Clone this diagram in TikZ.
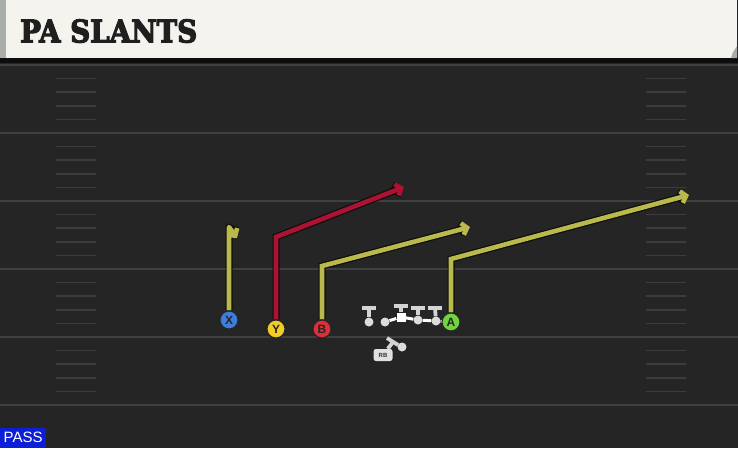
\documentclass[tikz,border=0pt]{standalone}
\usepackage{fontspec}
\usepackage{graphicx}
\setmainfont{Liberation Sans}
\newfontfamily\titlefont{DejaVu Serif Bold}[FakeBold=4]
\usetikzlibrary{arrows.meta}
\definecolor{fieldbg}{RGB}{37,37,37}
\definecolor{yardline}{RGB}{64,64,64}
\definecolor{hashc}{RGB}{60,60,60}
\definecolor{headbg}{RGB}{245,243,237}
\definecolor{headedge}{RGB}{170,172,170}
\definecolor{routeyel}{RGB}{186,186,76}
\definecolor{routered}{RGB}{172,18,50}
\definecolor{pblue}{RGB}{62,124,222}
\definecolor{pyellow}{RGB}{244,204,40}
\definecolor{pred}{RGB}{222,46,56}
\definecolor{pgreen}{RGB}{112,212,64}
\definecolor{linegray}{RGB}{212,212,212}
\definecolor{passblue}{RGB}{12,30,214}
\tikzset{
  route/.style={line width=4.6pt, line join=miter, -{Straight Barb[length=5pt,width=12pt]},
    preaction={draw=black!95, line width=7pt, -{Straight Barb[length=5pt,width=12pt]}}},
  hookroute/.style={line width=4.6pt, line join=round, draw=routeyel, -{Straight Barb[length=5pt,width=12pt]},
    preaction={draw=black!95, line join=round, line width=7pt, -{Straight Barb[length=5pt,width=12pt]}}},
  yroute/.style={route, draw=routeyel},
  rroute/.style={route, draw=routered},
  player/.style={circle, minimum size=18pt, inner sep=0pt, draw=black!85, line width=1.1pt,
    font=\bfseries\fontsize{12}{12}\selectfont, text=black!85},
  olman/.style={line width=3.8pt, draw=linegray},
  olbody/.style={circle, fill=linegray!80, minimum size=9pt, inner sep=0pt},
  yardl/.style={draw=yardline, line width=2pt},
  hashl/.style={draw=hashc, line width=1.6pt}
}
\begin{document}
\begin{tikzpicture}[x=1pt,y=-1pt]
\useasboundingbox (0,0) rectangle (738,448);
% field
\fill[fieldbg] (0,0) rectangle (738,448);
% yard lines and hashes
\foreach \i in {0,...,5}{
  \draw[yardl] (0,{65+68*\i}) -- (738,{65+68*\i});
}
\foreach \i in {0,...,4}{
  \foreach \k in {1,...,4}{
    \draw[hashl] (56,{65+68*\i+13.6*\k}) -- (96,{65+68*\i+13.6*\k});
    \draw[hashl] (646,{65+68*\i+13.6*\k}) -- (686,{65+68*\i+13.6*\k});
  }
}
% header
\fill[black!95] (0,57) rectangle (738,62.5);
\fill[headbg] (0,0) rectangle (737,58);
\fill[headedge] (0,0) rectangle (6,58);
\fill[headedge] (733,52) -- (737,46) -- (737,58) -- (731,58) -- cycle;
\node[anchor=south west, inner sep=0pt, text=black!88] (title) at (20,43)
  {\resizebox{177pt}{23pt}{\titlefont PA SLANTS}};
% players
\node[player, fill=pblue] (X) at (229,320) {X};
\node[player, fill=pyellow] (Y) at (276,329) {Y};
\node[player, fill=pred] (B) at (322,329) {B};
\node[player, fill=pgreen] (A) at (451,322) {A};
% route coordinates
\coordinate (xb) at (229,227);
\coordinate (xe) at (237,238);
\coordinate (yb) at (276,237);
\coordinate (ye) at (404,187);
\coordinate (bb) at (322,266);
\coordinate (be) at (470,227);
\coordinate (ab) at (451,259);
\coordinate (ae) at (689,195);
% routes
\draw[hookroute] (X) -- (xb) -- (xe);
\draw[rroute] (Y) -- (yb) -- (ye);
\draw[yroute] (B) -- (bb) -- (be);
\draw[yroute] (A) -- (ab) -- (ae);
% redraw players on top
\node[player, fill=pblue] at (X) {X};
\node[player, fill=pyellow] at (Y) {Y};
\node[player, fill=pred] at (B) {B};
\node[player, fill=pgreen] at (A) {A};
% offensive line
\node[olbody] (lt) at (369,322) {};
\node[olbody] (lg) at (385,322) {};
\node[fill=white, minimum size=9pt, inner sep=0pt] (c) at (401,317) {};
\node[olbody] (rg) at (418,320) {};
\node[olbody] (rt) at (436,321) {};
\coordinate (lttop) at (369,308);
\coordinate (ctop) at (401,306);
\coordinate (rgtop) at (418,308);
\coordinate (rttop) at (435,308);
\draw[olman] (lt) -- (lttop);
\draw[olman] (362,308) -- (376,308);
\draw[olman] (c) -- (ctop);
\draw[olman] (394,306) -- (408,306);
\draw[olman] (rg) -- (rgtop);
\draw[olman] (411,308) -- (425,308);
\draw[olman] (rt) -- (rttop);
\draw[olman] (428,308) -- (442,308);
\draw[draw=white, line width=3pt] (lg) -- (c) -- (rg) -- (rt) -- (A);
% running back
\node[fill=linegray!70, rounded corners=2.5pt, minimum width=19pt, minimum height=12pt, inner sep=0pt,
  font=\fontsize{6}{6}\selectfont\bfseries, text=black!80] (rb) at (383,355) {RB};
\coordinate (rbt) at (393,342);
\node[olbody] (rbc) at (402,347) {};
\draw[olman] (rb) -- (rbt);
\draw[olman] (387,338) -- (398,345);
\draw[olman] (398,345) -- (rbc);
% pass tag
\node[fill=passblue, anchor=south west, minimum width=46pt, minimum height=20pt, inner sep=0pt,
  text=white, font=\fontsize{15}{15}\selectfont] (pass) at (0,448) {PASS};
\end{tikzpicture}
\end{document}
